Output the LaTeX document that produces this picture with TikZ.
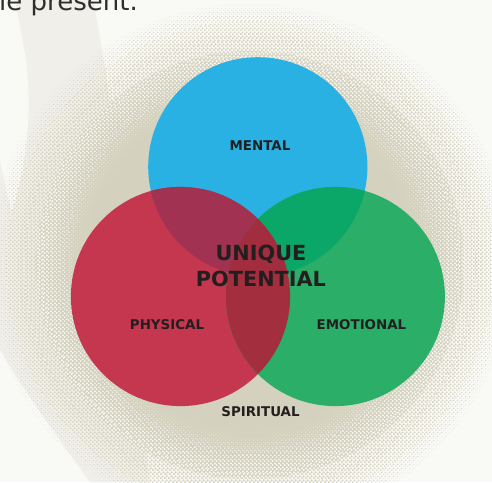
\documentclass[tikz,border=0pt]{standalone}
\usepackage{fontspec}
\setmainfont{DejaVu Sans}
\usetikzlibrary{patterns}
\definecolor{bgc}{HTML}{F9F9F6}
\definecolor{bandc}{HTML}{F0EFE9}
\definecolor{beige}{HTML}{D4D1BE}
\definecolor{cblue}{HTML}{2AB1E3}
\definecolor{cred}{HTML}{C4374E}
\definecolor{cgreen}{HTML}{2AAE68}
\definecolor{crb}{HTML}{A13251}
\definecolor{cbg}{HTML}{0BA768}
\definecolor{crg}{HTML}{A32E3E}
\definecolor{crgb}{HTML}{A12D3E}
\definecolor{ink}{HTML}{231F20}
\definecolor{txt}{HTML}{2E2E2E}
\newcommand\mkpat[4]{\pgfdeclarepatternformonly{#1}{\pgfpointorigin}{\pgfqpoint{4.2pt}{4.2pt}}{\pgfqpoint{4.2pt}{4.2pt}}{\pgfpathcircle{\pgfqpoint{#2pt}{1.05pt}}{#4pt}\pgfpathcircle{\pgfqpoint{#3pt}{3.15pt}}{#4pt}\pgfusepath{fill}}}
% holes (inner rings)
\mkpat{h0}{3.15}{1.05}{0.30}
\mkpat{h1}{3.15}{1.05}{0.55}
\mkpat{h2}{3.15}{1.05}{0.75}
\mkpat{h3}{3.15}{1.05}{0.92}
\mkpat{h4}{3.15}{1.05}{1.08}
\mkpat{h5}{3.15}{1.05}{1.22}
\mkpat{h6}{3.15}{1.05}{1.35}
\mkpat{h7}{3.15}{1.05}{1.45}
% dots (outer rings)
\mkpat{d8}{1.05}{3.15}{1.45}
\mkpat{d9}{1.05}{3.15}{1.40}
\mkpat{d10}{1.05}{3.15}{1.30}
\mkpat{d11}{1.05}{3.15}{1.18}
\mkpat{d12}{1.05}{3.15}{1.04}
\mkpat{d13}{1.05}{3.15}{0.88}
\mkpat{d14}{1.05}{3.15}{0.70}
\mkpat{d15}{1.05}{3.15}{0.45}
\tikzset{
  lab/.style={font=\bfseries\fontsize{13.4}{15}\selectfont, text=ink, inner sep=0pt, anchor=base},
  big/.style={font=\bfseries\fontsize{20.8}{26}\selectfont, text=ink, inner sep=0pt, align=center},
}
\begin{document}
\begin{tikzpicture}[x=1pt,y=-1pt]
\useasboundingbox (0,0) rectangle (492,482);
\clip (0,0) rectangle (492,482);
\fill[bgc] (0,0) rectangle (492,482);
% background swoosh
\fill[bandc] (15,0) -- (93,0) .. controls (105,60) and (120,160) .. (128,250)
  .. controls (135,340) and (140,420) .. (150,482) -- (90,482)
  .. controls (60,440) and (30,400) .. (0,350) -- (0,160)
  .. controls (4,180) and (8,200) .. (12,212)
  .. controls (28,160) and (32,110) .. (26,60) .. controls (22,35) and (18,15) .. (15,0) -- cycle;
% halftone disc
\coordinate (C) at (250,265);
\fill[beige] (C) circle (214);
\foreach \k in {0,...,7}
  \fill[pattern=h\k, pattern color=bgc, even odd rule] (C) circle ({166+6*\k}) (C) circle ({172+6*\k});
\foreach \k in {8,...,15}
  \fill[pattern=d\k, pattern color=beige, even odd rule] (C) circle ({166+6*\k}) (C) circle ({172+6*\k});
% circles
\def\R{109.6}
\coordinate (M) at (257.8,166.8);
\coordinate (P) at (180.5,296.5);
\coordinate (E) at (335.3,296.5);
\fill[cblue] (M) circle (\R);
\fill[cred] (P) circle (\R);
\fill[cgreen] (E) circle (\R);
\begin{scope}
  \clip (M) circle (\R);
  \fill[crb] (P) circle (\R);
  \fill[cbg] (E) circle (\R);
\end{scope}
\begin{scope}
  \clip (P) circle (\R);
  \fill[crg] (E) circle (\R);
  \clip (E) circle (\R);
  \fill[crgb] (M) circle (\R);
\end{scope}
% labels
\node[lab] (mental) at (260,150.7) {MENTAL};
\node[lab] (physical) at (167,329) {PHYSICAL};
\node[lab] (emotional) at (361.5,329) {EMOTIONAL};
\node[lab] (spiritual) at (260.5,416.7) {SPIRITUAL};
\node[big] (unique) at (261,265.8) {UNIQUE\\POTENTIAL};
\node[anchor=base west, font=\fontsize{26}{30}\selectfont, text=txt, inner sep=0pt] (intro) at (-1,10) {le present.};
\end{tikzpicture}
\end{document}
